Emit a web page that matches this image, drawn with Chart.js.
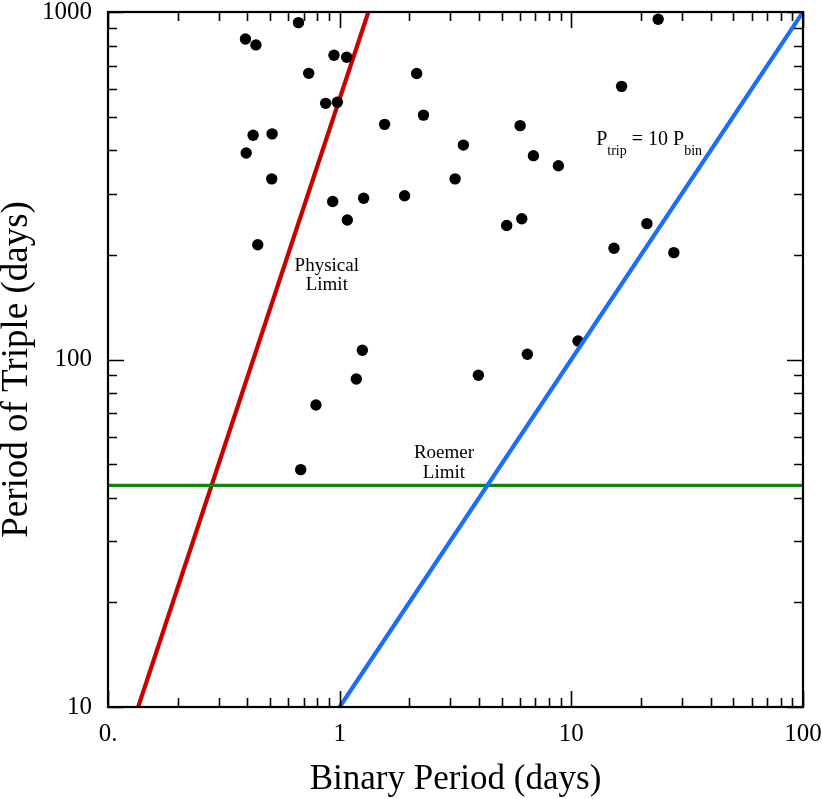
<!DOCTYPE html>
<html><head><meta charset="utf-8">
<script src="https://cdn.jsdelivr.net/npm/chart.js@4/dist/chart.umd.min.js"></script>
<style>html,body{margin:0;padding:0;background:#fff;}#wrap{width:822px;height:799px;}</style>
</head><body><div id="wrap"><canvas id="c" width="822" height="799"></canvas></div>
<script>
// ---- data ----
const binaryPeriod = [0.392,0.435,0.664,0.945,1.072,0.735,2.15,0.87,0.977,1.563,0.423,0.511,0.395,0.509,0.933,1.269,1.906,1.079,0.443,1.253,1.18,0.79,0.679,23.7,16.48,2.30,6.01,3.42,6.86,8.79,3.15,5.26,6.11,21.2,15.28,27.7,10.69,6.46,3.97];
const triplePeriod = [836,804,932,751,741,666,665,546,550,475,442,446,393,331,285,291,296,252,214,106.3,87.9,74.0,48.2,953,611,505,471,414,386,361,331,243,254,246,209,203,113,103.5,90.1];
const physicalLimitX = [0.135, 1.33];
const physicalLimitY = [10, 1000];
const tenTimesX = [1, 100];
const tenTimesY = [10, 1000];
const roemerX = [0.1, 100];
const roemerY = [43.4, 43.4];
const xTickValues = [0.1, 1, 10, 100];
const xTickLabels = ['0.', '1', '10', '100'];
const yTickValues = [10, 100, 1000];
const yTickLabels = ['10', '100', '1000'];
const xTitle = 'Binary Period (days)';
const yTitle = 'Period of Triple (days)';

const SERIF = '"Liberation Serif", "Times New Roman", serif';
const toXY = (xs, ys) => xs.map((x, i) => ({x, y: ys[i]}));

function logTicks(min, max) {
  const out = [];
  const e0 = Math.floor(Math.log10(min) + 1e-9), e1 = Math.ceil(Math.log10(max) - 1e-9);
  for (let e = e0; e <= e1; e++) {
    for (let m = 1; m < 10; m++) {
      const v = m * Math.pow(10, e);
      if (v >= min * 0.999 && v <= max * 1.001) out.push({v, major: m === 1});
    }
  }
  return out;
}

const frameTicks = {
  id: 'frameTicks',
  afterDraw(chart) {
    const {ctx, chartArea: a, scales: {x, y}} = chart;
    ctx.save();
    ctx.strokeStyle = '#000';
    ctx.lineWidth = 1.6;
    ctx.beginPath();
    logTicks(x.min, x.max).forEach(t => {
      const px = Math.round(x.getPixelForValue(t.v)) + 0.5;
      const len = t.major ? 16 : 9;
      ctx.moveTo(px, a.bottom); ctx.lineTo(px, a.bottom - len);
      ctx.moveTo(px, a.top); ctx.lineTo(px, a.top + len);
    });
    logTicks(y.min, y.max).forEach(t => {
      const py = Math.round(y.getPixelForValue(t.v)) + 0.5;
      const len = t.major ? 16 : 9;
      ctx.moveTo(a.left, py); ctx.lineTo(a.left + len, py);
      ctx.moveTo(a.right, py); ctx.lineTo(a.right - len, py);
    });
    ctx.stroke();
    ctx.lineWidth = 2.2;
    ctx.strokeRect(a.left, a.top, a.right - a.left, a.bottom - a.top);
    // y axis title (rotated)
    ctx.fillStyle = '#000';
    ctx.font = '37px ' + SERIF;
    ctx.textAlign = 'center';
    ctx.textBaseline = 'alphabetic';
    ctx.translate(y.left + 27, (a.top + a.bottom) / 2 + 10);
    ctx.rotate(-Math.PI / 2);
    ctx.fillText(yTitle, 0, 0);
    ctx.restore();
  }
};

const labels = {
  id: 'labels',
  afterDatasetsDraw(chart) {
    const {ctx, scales: {x, y}} = chart;
    ctx.save();
    ctx.fillStyle = '#000';
    ctx.textBaseline = 'alphabetic';
    ctx.textAlign = 'center';
    ctx.font = '19px ' + SERIF;
    let px = x.getPixelForValue(0.88), py = y.getPixelForValue(179.8);
    ctx.fillText('Physical', px, py);
    ctx.fillText('Limit', px, py + 19);
    px = x.getPixelForValue(2.82); py = y.getPixelForValue(52.2);
    ctx.fillText('Roemer', px, py);
    ctx.fillText('Limit', px, py + 20);
    // P_trip = 10 P_bin
    ctx.textAlign = 'left';
    px = x.getPixelForValue(12.8); py = y.getPixelForValue(414);
    const big = '20px ' + SERIF, small = '14px ' + SERIF;
    const parts = [['P', big, 0], ['trip', small, 10], [' = 10 P', big, 0], ['bin', small, 10]];
    let cx = px;
    parts.forEach(([t, f, dy]) => {
      ctx.font = f;
      ctx.fillText(t, cx, py + dy);
      cx += ctx.measureText(t).width;
    });
    ctx.restore();
  }
};

new Chart(document.getElementById('c'), {
  type: 'scatter',
  data: {
    datasets: [
      {label: 'Physical Limit', type: 'line', data: toXY(physicalLimitX, physicalLimitY), borderColor: '#c80000', borderWidth: 4.2, pointRadius: 0, fill: false, order: 3},
      {label: 'Roemer Limit', type: 'line', data: toXY(roemerX, roemerY), borderColor: '#0e860e', borderWidth: 3.2, pointRadius: 0, fill: false, order: 2},
      {label: 'Triples', data: toXY(binaryPeriod, triplePeriod), backgroundColor: '#000', borderWidth: 0, pointRadius: 5.7, order: 1},
      {label: 'P_trip = 10 P_bin', type: 'line', data: toXY(tenTimesX, tenTimesY), borderColor: '#1a6eff', borderWidth: 4.2, pointRadius: 0, fill: false, order: 0}
    ]
  },
  options: {
    responsive: false,
    animation: false,
    devicePixelRatio: 1,
    layout: {padding: {left: 0, right: 19, top: 12, bottom: 0}, autoPadding: false},
    plugins: {legend: {display: false}, tooltip: {enabled: false}},
    scales: {
      x: {
        type: 'logarithmic', min: 0.1, max: 100, position: 'bottom',
        grid: {display: false, drawTicks: false}, border: {display: false},
        afterBuildTicks: s => { s.ticks = xTickValues.map(v => ({value: v})); },
        afterFit: s => { s.height = 92; s.paddingLeft = 0; s.paddingRight = 0; s.paddingTop = 0; s.paddingBottom = 0; },
        ticks: {autoSkip: false, maxRotation: 0, padding: 12, color: '#000', font: {family: SERIF, size: 25},
          callback: (v, i) => xTickLabels[i]},
        title: {display: true, text: xTitle, color: '#000', font: {family: SERIF, size: 35}, padding: {top: 0, bottom: -2}}
      },
      y: {
        type: 'logarithmic', min: 10, max: 1000, position: 'left',
        grid: {display: false, drawTicks: false}, border: {display: false},
        afterBuildTicks: s => { s.ticks = yTickValues.map(v => ({value: v})); },
        afterFit: s => { s.width = 108; s.paddingLeft = 0; s.paddingRight = 0; s.paddingTop = 0; s.paddingBottom = 0; },
        ticks: {autoSkip: false, padding: 16, color: '#000', font: {family: SERIF, size: 25},
          callback: (v, i) => yTickLabels[i]},
        title: {display: false}
      }
    }
  },
  plugins: [frameTicks, labels]
});
</script>
</body></html>
